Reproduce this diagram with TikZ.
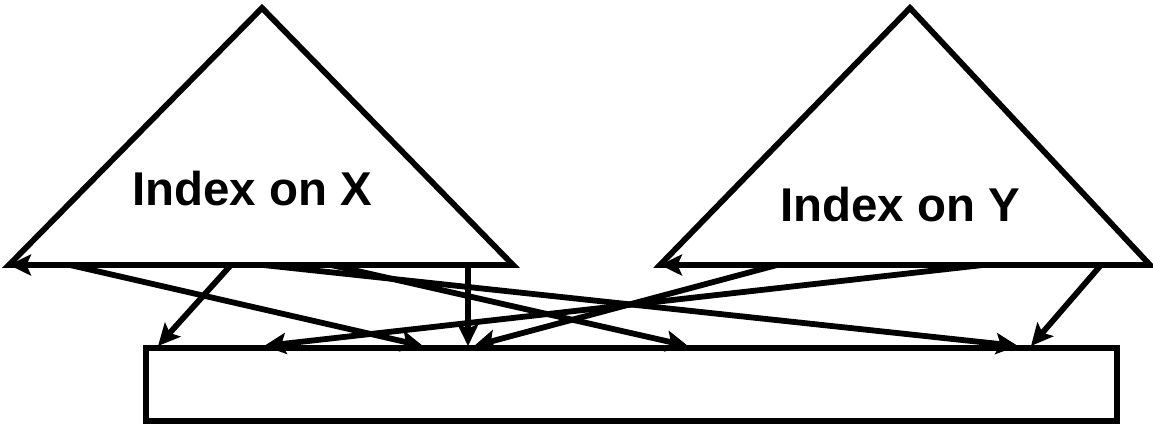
\documentclass[tikz,border=0pt]{standalone}
\usepackage{fontspec}
\setmainfont{Liberation Sans}
\usetikzlibrary{calc, arrows.meta}

\begin{document}
\begin{tikzpicture}[x=0.02cm, y=-0.02cm,
        thickline/.style={black, line width=3.3pt},
        ptr/.style={thickline, -{Stealth[length=0.44cm, width=0.42cm, inset=0.09cm]}},
        idxtext/.style={font=\bfseries\fontsize{27}{32}\selectfont, inner sep=0pt}]
    \useasboundingbox (0,0) rectangle (1153,425);
    % the two indexes
    \coordinate (XA) at (262,8);
    \coordinate (XL) at (9,265);
    \coordinate (XR) at (513,265);
    \coordinate (YA) at (910,8);
    \coordinate (YL) at (660,265);
    \coordinate (YR) at (1150,265);
    \draw[thickline] (XA) -- (XL) -- (XR) -- cycle;
    \draw[thickline] (YA) -- (YL) -- (YR) -- cycle;
    \node[idxtext] (ix) at (252,189) {Index on X};
    \node[idxtext] (iy) at (900,205) {Index on Y};
    % the table
    \coordinate (T1) at (146,348);
    \coordinate (T2) at (1117,421);
    \draw[thickline] (T1) rectangle (T2);
    % pointers out of the leaves
    \coordinate (x1) at (70,265);
    \coordinate (x2) at (231,265);
    \coordinate (x3) at (263,265);
    \coordinate (x4) at (331,265);
    \coordinate (x5) at (468,265);
    \coordinate (y1) at (777,265);
    \coordinate (y2) at (983,265);
    \coordinate (y3) at (1101,265);
    % where they land on the table
    \coordinate (r1) at (158,346);
    \coordinate (r2) at (264,346);
    \coordinate (r3) at (423,346);
    \coordinate (r4) at (468,346);
    \coordinate (r5) at (474,346);
    \coordinate (r6) at (688,346);
    \coordinate (r7) at (1018,346);
    \coordinate (r8) at (1031,346);
    \draw[ptr] (x1) -- (XL);
    \draw[ptr] (x1) -- (r3);
    \draw[ptr] (x2) -- (r1);
    \draw[ptr] (x3) -- (r7);
    \draw[ptr] (x4) -- (r6);
    \draw[ptr] (x5) -- (r4);
    \draw[ptr] (y1) -- (YL);
    \draw[ptr] (y1) -- (r5);
    \draw[ptr] (y2) -- (r2);
    \draw[ptr] (y3) -- (r8);
\end{tikzpicture}
\end{document}
